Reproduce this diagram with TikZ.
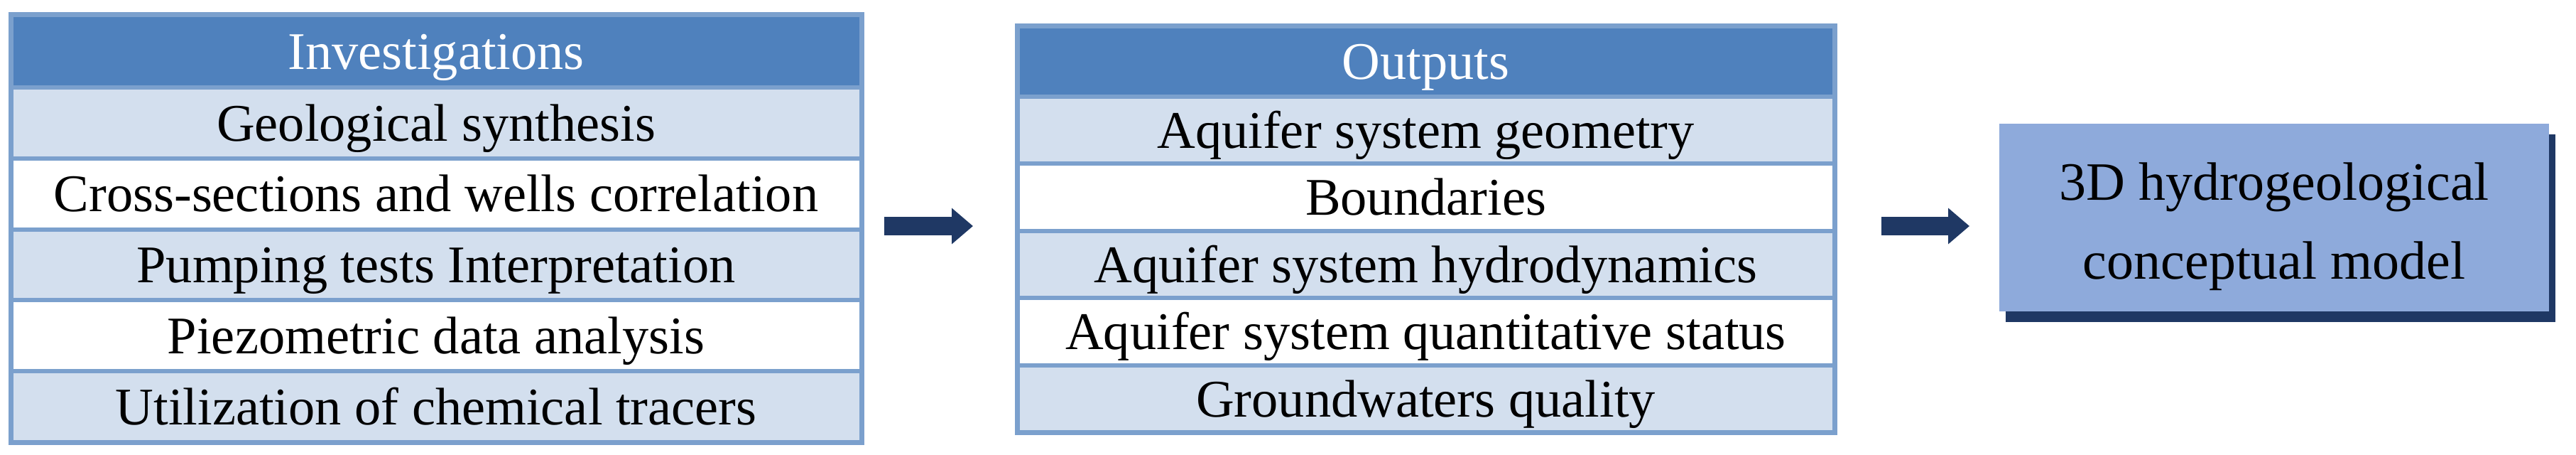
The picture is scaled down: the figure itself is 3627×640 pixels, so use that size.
\documentclass[tikz,border=0pt]{standalone}
\usepackage{fontspec}
\setmainfont{Liberation Serif}
\usetikzlibrary{arrows.meta,shadows}
\definecolor{hdr}{HTML}{4F81BD}
\definecolor{lightrow}{HTML}{D3DFEE}
\definecolor{bordc}{HTML}{7BA0CD}
\definecolor{boxfill}{HTML}{8EAADB}
\definecolor{navy}{HTML}{1F3864}
\begin{document}
\begin{tikzpicture}[x=0.25pt,y=-0.25pt,
  cell/.style={rectangle, inner sep=0pt, outer sep=0pt, draw=none,
    font=\fontsize{18.6}{22}\selectfont, text=black,
    text height=16.7pt, text depth=4.1pt},
  hcell/.style={cell, fill=hdr, text=white},
  lcell/.style={cell, fill=lightrow},
  wcell/.style={cell, fill=white},
  colL/.style={minimum width=299.5pt},
  colM/.style={minimum width=287.75pt},
  sepline/.style={draw=bordc, line width=1.5pt},
  outerb/.style={draw=bordc, line width=1.75pt},
  mbox/.style={rectangle, fill=boxfill, inner sep=0pt, outer sep=0pt,
    minimum width=193.5pt, minimum height=66pt,
    drop shadow={shadow xshift=2.25pt, shadow yshift=-3.75pt, fill=navy, opacity=1}},
  mtext/.style={anchor=base, inner sep=0pt, font=\fontsize{19}{23}\selectfont},
  bigarrow/.style={draw=navy, line width=6.5pt,
    -{Triangle[length=7.5pt,width=12.25pt]}}
]
\useasboundingbox[fill=white] (0,0) rectangle (3627,640);

% Left table: Investigations
\node[hcell, colL, minimum height=25.5pt]  (inv0) at (614,72)    {Investigations};
\node[lcell, colL, minimum height=24.95pt] (inv1) at (614,172.9) {Geological synthesis};
\node[wcell, colL, minimum height=24.95pt] (inv2) at (614,272.7) {Cross-sections and wells correlation};
\node[lcell, colL, minimum height=24.95pt] (inv3) at (614,372.5) {Pumping tests Interpretation};
\node[wcell, colL, minimum height=24.95pt] (inv4) at (614,472.3) {Piezometric data analysis};
\node[lcell, colL, minimum height=24.95pt] (inv5) at (614,572.1) {Utilization of chemical tracers};
\foreach \i in {1,...,5} {
  \draw[sepline] (inv\i.north west) -- (inv\i.north east);
}
\draw[outerb] (inv0.north west) rectangle (inv5.south east);

% Middle table: Outputs
\node[hcell, colM, minimum height=24.75pt] (out0) at (2007.5,86.5)  {Outputs};
\node[lcell, colM, minimum height=23.6pt]  (out1) at (2007.5,183.2) {Aquifer system geometry};
\node[wcell, colM, minimum height=23.6pt]  (out2) at (2007.5,277.6) {Boundaries};
\node[lcell, colM, minimum height=23.6pt]  (out3) at (2007.5,372)   {Aquifer system hydrodynamics};
\node[wcell, colM, minimum height=23.6pt]  (out4) at (2007.5,466.4) {Aquifer system quantitative status};
\node[lcell, colM, minimum height=23.6pt]  (out5) at (2007.5,560.8) {Groundwaters quality};
\foreach \i in {1,...,5} {
  \draw[sepline] (out\i.north west) -- (out\i.north east);
}
\draw[outerb] (out0.north west) rectangle (out5.south east);

% Right box
\node[mbox] (model) at (3202,306) {};
\node[mtext] (mline1) at (3202,282) {3D hydrogeological};
\node[mtext] (mline2) at (3202,393) {conceptual model};

% Arrows
\coordinate (a1s) at (1245,318);
\coordinate (a1e) at (1370,318);
\coordinate (a2s) at (2649,318);
\coordinate (a2e) at (2773,318);
\draw[bigarrow] (a1s) -- (a1e);
\draw[bigarrow] (a2s) -- (a2e);
\end{tikzpicture}
\end{document}
